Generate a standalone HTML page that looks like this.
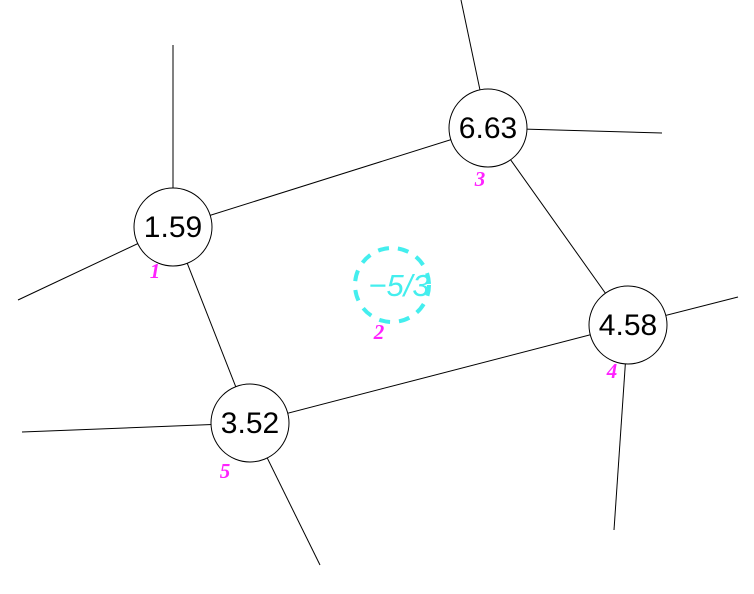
<!DOCTYPE html>
<html><head><meta charset="utf-8"><style>
html,body{margin:0;padding:0;background:#fff;width:754px;height:594px;overflow:hidden}
svg{display:block}
</style></head><body>
<svg id="g" width="754" height="594" xmlns="http://www.w3.org/2000/svg"></svg>
<script>
const nodeValues = ["1.59","6.63","4.58","3.52"];
const nodeIds = ["1","3","4","5"];
const nodeX = [173,488,628,250];
const nodeY = [227,128,325,423];
const labelX = [155,480,612,225];
const labelY = [278,186,378,478];
const edgeFrom = [0,0,1,3];
const edgeTo = [1,3,2,2];
const stubNode = [0,0,1,1,2,2,3,3];
const stubX = [173,18,461,662,738,614,22,320];
const stubY = [45,300,0,133,297,530,432,565];
const faceValue = "−5/3";
const faceId = "2";
const faceX = 392, faceY = 285;
const faceLabelX = 379, faceLabelY = 339;
const NS="http://www.w3.org/2000/svg";
const svg=document.getElementById('g');
function mk(t,a){const e=document.createElementNS(NS,t);for(const k in a)e.setAttribute(k,a[k]);svg.appendChild(e);return e;}
for(let i=0;i<stubNode.length;i++){
  const n=stubNode[i];
  const l=mk('line',{x1:nodeX[n],y1:nodeY[n],x2:stubX[i],y2:stubY[i],stroke:'#000','stroke-width':1});
  
  
}
for(let i=0;i<edgeFrom.length;i++){
  const a=edgeFrom[i],b=edgeTo[i];
  const l=mk('line',{x1:nodeX[a],y1:nodeY[a],x2:nodeX[b],y2:nodeY[b],stroke:'#000','stroke-width':1});
  
  
}
for(let i=0;i<nodeValues.length;i++){
  const c=mk('circle',{cx:nodeX[i],cy:nodeY[i],r:39,fill:'#fff',stroke:'#000','stroke-width':1});
  
  
  const t=mk('text',{x:nodeX[i],y:nodeY[i]+10,'text-anchor':'middle','font-family':'Liberation Sans, sans-serif','font-size':30,fill:'#000'});
  t.textContent=nodeValues[i];
  
  
  const lb=mk('text',{x:labelX[i],y:labelY[i],'text-anchor':'middle','font-family':'Liberation Serif, serif','font-size':21,'font-style':'italic','font-weight':'bold',fill:'#ff22ff'});
  lb.textContent=nodeIds[i];
  
  
}
const fc=mk('circle',{cx:faceX,cy:faceY,r:37,fill:'none',stroke:'#44eeee','stroke-width':4,'stroke-dasharray':'11 9'});


const ft=mk('text',{x:faceX+7,y:faceY+11,'text-anchor':'middle','font-family':'Liberation Sans, sans-serif','font-size':31,'font-style':'italic',fill:'#44eeee'});
ft.textContent=faceValue;


const fl=mk('text',{x:faceLabelX,y:faceLabelY,'text-anchor':'middle','font-family':'Liberation Serif, serif','font-size':21,'font-style':'italic','font-weight':'bold',fill:'#ff22ff'});
fl.textContent=faceId;


</script>
</body></html>
